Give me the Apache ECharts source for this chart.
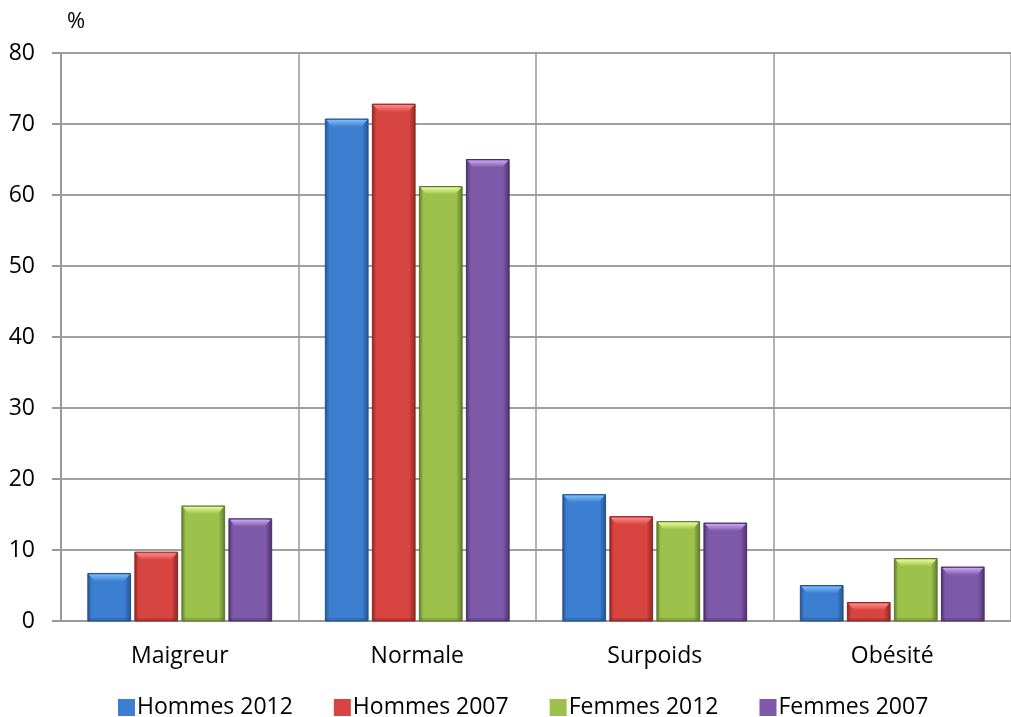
<!DOCTYPE html>
<html>
<head>
<meta charset="utf-8">
<script src="https://cdn.jsdelivr.net/npm/echarts@6/dist/echarts.min.js"></script>
<style>
  html, body { margin: 0; padding: 0; background: #fff; }
  #chart { width: 1011px; height: 717px; }
</style>
</head>
<body>
<div id="chart"></div>
<script>
// Corpulence par sexe, 2007 et 2012 (en %)
const categories = ['Maigreur', 'Normale', 'Surpoids', 'Obésité'];
const hommes2012 = [6.7, 70.7, 17.8, 5.0];
const hommes2007 = [9.7, 72.8, 14.7, 2.6];
const femmes2012 = [16.2, 61.2, 14.0, 8.8];
const femmes2007 = [14.4, 65.0, 13.8, 7.6];
const yTicks = [0, 10, 20, 30, 40, 50, 60, 70, 80];

const FONT = 'Open Sans';

// main / edge / highlight shades for the bevelled bars
const palettes = [
  { main: '#3c7fd1', dark: '#23518b', light: '#7cbcf8' },
  { main: '#d8443f', dark: '#8a2623', light: '#ff8a86' },
  { main: '#9cc24b', dark: '#5c772b', light: '#e8f89c' },
  { main: '#7f59a9', dark: '#473066', light: '#c9a6f2' }
];

function makeRender(seriesIdx) {
  const p = palettes[seriesIdx];
  return function (params, api) {
    const cat = api.value(0);
    const val = api.value(1);
    const band = api.size([1, 0])[0];
    const barW = band * 0.18;
    const gap = band * 0.018;
    const total = 4 * barW + 3 * gap;
    const base = api.coord([cat, 0]);
    const topPt = api.coord([cat, val]);
    const x = base[0] - total / 2 + seriesIdx * (barW + gap);
    const y = topPt[1];
    const h = base[1] - y;
    const b = Math.min(8, h / 2);
    const s = 3;
    return {
      type: 'group',
      children: [
        {
          type: 'rect',
          shape: { x: x, y: y, width: barW, height: h },
          style: {
            fill: new echarts.graphic.LinearGradient(0, 0, 1, 0, [
              { offset: 0, color: p.dark },
              { offset: 0.1, color: p.main },
              { offset: 0.85, color: p.main },
              { offset: 1, color: p.dark }
            ]),
            stroke: p.dark,
            lineWidth: 1
          }
        },
        {
          type: 'polygon',
          shape: { points: [[x + 1, y + 1], [x + barW - 1, y + 1], [x + barW - s - 4, y + b], [x + s + 4, y + b]] },
          style: {
            fill: new echarts.graphic.LinearGradient(0, 0, 0, 1, [
              { offset: 0, color: p.light },
              { offset: 1, color: p.main }
            ])
          }
        },
        {
          type: 'rect',
          shape: { x: x + 1, y: base[1] - Math.min(3, h / 4), width: barW - 2, height: Math.min(3, h / 4) },
          style: { fill: p.dark, opacity: 0.35 }
        }
      ]
    };
  };
}

const seriesNames = ['Hommes 2012', 'Hommes 2007', 'Femmes 2012', 'Femmes 2007'];
const seriesData = [hommes2012, hommes2007, femmes2012, femmes2007];

const chart = echarts.init(document.getElementById('chart'), null, { renderer: 'canvas' });
chart.setOption({
  animation: false,
  backgroundColor: '#ffffff',
  textStyle: { fontFamily: FONT },
  grid: { left: 61, top: 53, width: 956, height: 568, containLabel: false },
  graphic: [{
    type: 'text', left: 67, top: 11,
    style: { text: '%', fontFamily: FONT, fontSize: 22, fill: '#000' }
  }],
  legend: {
    top: 696,
    left: 118,
    padding: 0,
    itemWidth: 17,
    itemHeight: 17,
    itemGap: 41,
    icon: 'rect',
    textStyle: { fontFamily: FONT, fontSize: 23, color: '#000', padding: [0, 0, 0, -3] },
    data: seriesNames.map((n, i) => ({ name: n, itemStyle: { color: palettes[i].main } }))
  },
  xAxis: {
    type: 'category',
    data: categories,
    axisLine: { lineStyle: { color: '#999', width: 2 } },
    axisTick: { show: false },
    splitLine: { show: true, lineStyle: { color: '#999', width: 1.5 } },
    axisLabel: { fontFamily: FONT, fontSize: 23, color: '#000', margin: 24 }
  },
  yAxis: {
    type: 'value',
    min: yTicks[0],
    max: yTicks[yTicks.length - 1],
    interval: 10,
    axisLine: { show: true, lineStyle: { color: '#999', width: 2 } },
    axisTick: { show: true, length: 9, lineStyle: { color: '#999', width: 2 } },
    splitLine: { lineStyle: { color: '#a0a0a0', width: 2 } },
    axisLabel: { fontFamily: FONT, fontSize: 23, color: '#000', margin: 26 }
  },
  series: seriesNames.map((n, i) => ({
    name: n,
    type: 'custom',
    itemStyle: { color: palettes[i].main },
    encode: { x: 0, y: 1 },
    data: seriesData[i].map((v, k) => [k, v]),
    renderItem: makeRender(i)
  }))
});
</script>
</body>
</html>
